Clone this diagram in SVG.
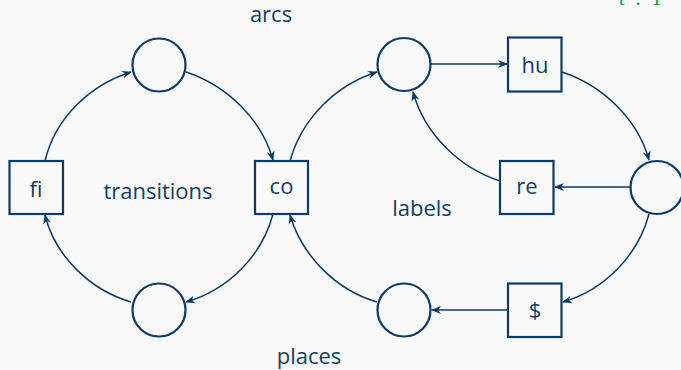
<svg xmlns="http://www.w3.org/2000/svg" width="681" height="370" viewBox="0 0 681 370">
<style>
.place{fill:none;stroke:#0d3a66;stroke-width:2.2}
.trans{fill:none;stroke:#0d3a66;stroke-width:2.2}
.lbl{font-family:"Open Sans",sans-serif;font-size:22px;fill:#143d66;text-anchor:middle}
.note{font-family:"Open Sans",sans-serif;font-size:22px;fill:#143d66;text-anchor:middle}
.arc{fill:none;stroke:#0d3a66;stroke-width:1.5;marker-end:url(#ah)}
</style>
<defs>
<marker id="ah" viewBox="0 0 10 10" refX="9" refY="5" markerWidth="10" markerHeight="10" markerUnits="userSpaceOnUse" orient="auto">
<path d="M0,1 L10,5 L0,9 L3,5 Z" fill="#0d3a66"/>
</marker>
</defs>
<rect width="681" height="370" fill="#f9f9fa"/>
<text x="619" y="5" font-family="Liberation Serif,serif" font-size="22" fill="#1f9a4f"><tspan font-style="italic">t</tspan><tspan x="635">:</tspan><tspan x="651">1</tspan></text>
<g id="connectors">
<path class="arc" d="M45,161 C55,118 90,85 131,72"/>
<path class="arc" d="M186,72 C228,86 262,120 273,160"/>
<path class="arc" d="M273,214 C262,256 228,290 186,302"/>
<path class="arc" d="M131,302 C90,290 55,256 45,215"/>
<path class="arc" d="M290,161 C302,118 336,85 377,72"/>
<path class="arc" d="M377,302 C336,290 302,256 290,215"/>
<path class="arc" d="M431,64 L507,64"/>
<path class="arc" d="M562,72 C604,86 638,120 649,160"/>
<path class="arc" d="M630,187 L555,187"/>
<path class="arc" d="M500,181 C460,168 425,135 413,92"/>
<path class="arc" d="M649,214 C638,256 604,290 563,302"/>
<path class="arc" d="M508,310 L432,310"/>
</g>
<g id="p1"><circle class="place" cx="159" cy="65" r="26.5"/></g>
<g id="p2"><circle class="place" cx="159" cy="310" r="26.5"/></g>
<g id="p3"><circle class="place" cx="404" cy="64.5" r="26.5"/></g>
<g id="p4"><circle class="place" cx="404" cy="310" r="26.5"/></g>
<g id="p5"><circle class="place" cx="657" cy="187.5" r="26.5"/></g>
<g id="fi"><rect class="trans" x="9.5" y="161" width="53.5" height="53"/><text class="lbl" x="36" y="197">fi</text></g>
<g id="co"><rect class="trans" x="255" y="161" width="53" height="53"/><text class="lbl" x="281.5" y="194">co</text></g>
<g id="hu"><rect class="trans" x="508" y="37.5" width="53.5" height="54"/><text class="lbl" x="535" y="73">hu</text></g>
<g id="re"><rect class="trans" x="500" y="161" width="53.5" height="53"/><text class="lbl" x="527" y="194">re</text></g>
<g id="dollar"><rect class="trans" x="508" y="283.5" width="53.5" height="53.5"/><text class="lbl" x="535" y="318">$</text></g>
<text class="note" x="158" y="199">transitions</text>
<text class="note" x="422" y="216">labels</text>
<text class="note" x="271" y="22">arcs</text>
<text class="note" x="309" y="364">places</text>
</svg>
